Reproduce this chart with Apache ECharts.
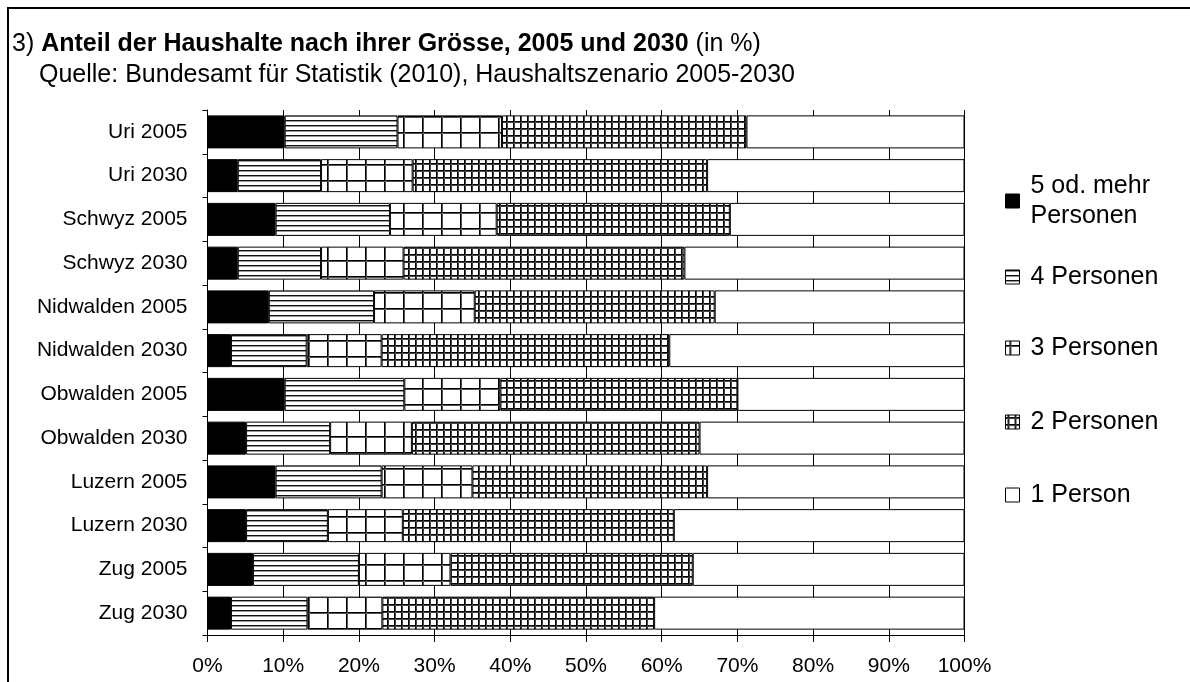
<!DOCTYPE html>
<html>
<head>
<meta charset="utf-8">
<script src="https://cdn.jsdelivr.net/npm/echarts@6/dist/echarts.min.js"></script>
<style>
    html, body { margin: 0; padding: 0; background: #fff; }
    #main { width: 1190px; height: 682px; }
</style>
</head>
<body>
<div id="main"></div>
<script>
// Kategorien, von oben nach unten
var kategorien = ['Uri 2005', 'Uri 2030', 'Schwyz 2005', 'Schwyz 2030', 'Nidwalden 2005', 'Nidwalden 2030',
    'Obwalden 2005', 'Obwalden 2030', 'Luzern 2005', 'Luzern 2030', 'Zug 2005', 'Zug 2030']

// Anteile in %
var personen5 = [10.2, 4.0, 9.0, 4.0, 8.1, 3.1, 10.2, 5.1, 9.0, 5.1, 6.0, 3.1]
var personen4 = [14.9, 11.0, 15.1, 11.0, 13.9, 10.0, 15.8, 11.1, 14.0, 10.8, 14.0, 10.1]
var personen3 = [13.8, 12.1, 14.1, 10.9, 13.3, 9.9, 12.7, 10.8, 12.0, 9.9, 12.1, 9.9]
var personen2 = [32.3, 38.9, 30.8, 37.1, 31.7, 38.0, 31.3, 38.0, 31.0, 35.8, 32.0, 35.9]
var personen1 = [28.8, 34.0, 31.0, 37.0, 33.0, 39.0, 30.0, 35.0, 34.0, 38.4, 35.9, 41.0]

var serienNamen = ['5 od. mehr Personen', '4 Personen', '3 Personen', '2 Personen', '1 Person']

var font = "'Liberation Sans', Arial, sans-serif"

// kleine Canvas-Muster fuer die Schraffuren
function muster (w, h, zeichnen) {
    var c = document.createElement('canvas')
    c.width = w
    c.height = h
    var ctx = c.getContext('2d')
    ctx.fillStyle = '#fff'
    ctx.fillRect(0, 0, w, h)
    zeichnen(ctx)
    return { image: c, repeat: 'repeat' }
}

// waagrechte Streifen
var streifen = muster(6, 5, function (ctx) {
    ctx.fillStyle = '#111'
    ctx.fillRect(0, 0, 6, 1)
    ctx.fillStyle = '#999'
    ctx.fillRect(0, 1, 6, 1)
})
// grosses Gitter
var grossGitter = muster(19, 16, function (ctx) {
    ctx.fillStyle = '#000'
    ctx.fillRect(4, 0, 1, 16)
    ctx.fillRect(0, 4, 19, 1)
    ctx.fillStyle = '#555'
    ctx.fillRect(5, 0, 1, 16)
    ctx.fillRect(0, 5, 19, 1)
})
// kleines Gitter
var kleinGitter = muster(7, 7, function (ctx) {
    ctx.fillStyle = '#000'
    ctx.fillRect(2, 0, 1, 7)
    ctx.fillRect(0, 2, 7, 1)
    ctx.fillStyle = '#444'
    ctx.fillRect(3, 0, 1, 7)
    ctx.fillRect(0, 3, 7, 1)
})

var fuellungen = ['#000', streifen, grossGitter, kleinGitter, '#fff']
var werte = [personen5, personen4, personen3, personen2, personen1]

var series = serienNamen.map(function (name, i) {
    return {
        name: name,
        type: 'bar',
        stack: 'total',
        barWidth: 33,
        data: werte[i],
        itemStyle: {
            color: fuellungen[i],
            borderColor: '#000',
            borderWidth: 1
        },
        emphasis: { disabled: true }
    }
})

function legende (name, top, extra) {
    var l = {
        data: [name],
        orient: 'vertical',
        left: 1005,
        top: top,
        padding: 0,
        itemWidth: 14,
        itemHeight: 14,
        icon: 'rect',
        selectedMode: false,
        itemStyle: { borderColor: '#000', borderWidth: 1 },
        textStyle: { fontSize: 25, lineHeight: 30, color: '#000', fontFamily: font, padding: [0, 0, 0, 6] }
    }
    if (extra) {
        l.formatter = extra.formatter
        l.textStyle.padding = extra.padding
    }
    return l
}

var myChart = echarts.init(document.getElementById('main'))
myChart.setOption({
    animation: false,
    backgroundColor: '#fff',
    title: [{
        left: 12,
        top: 30,
        padding: 0,
        text: '{n|3) }{b|Anteil der Haushalte nach ihrer Grösse, 2005 und 2030}{n| (in %)}',
        textStyle: {
            fontWeight: 'normal',
            rich: {
                n: { fontSize: 25, lineHeight: 28, fontFamily: font, color: '#000', fontWeight: 'normal' },
                b: { fontSize: 25, lineHeight: 28, fontFamily: font, color: '#000', fontWeight: 'bold' }
            }
        }
    }, {
        left: 39,
        top: 61,
        padding: 0,
        text: 'Quelle: Bundesamt für Statistik (2010), Haushaltszenario 2005-2030',
        textStyle: { fontSize: 25, lineHeight: 28, fontFamily: font, color: '#000', fontWeight: 'normal' }
    }],
    legend: [
        legende(serienNamen[0], 156, { formatter: '5 od. mehr\nPersonen', padding: [30, 0, 0, 6] }),
        legende(serienNamen[1], 262),
        legende(serienNamen[2], 333),
        legende(serienNamen[3], 407),
        legende(serienNamen[4], 480)
    ],
    graphic: [{
        type: 'rect',
        silent: true,
        shape: { x: 8, y: 8, width: 1200, height: 700 },
        style: { fill: 'none', stroke: '#000', lineWidth: 2 }
    }],
    grid: {
        left: 207.5,
        right: 225.5,
        top: 110,
        bottom: 47
    },
    xAxis: {
        type: 'value',
        min: 0,
        max: 100,
        interval: 10,
        axisLine: { show: true, lineStyle: { color: '#000', width: 1 } },
        axisTick: { show: true, length: 7, lineStyle: { color: '#000' } },
        splitLine: { show: true, lineStyle: { color: '#000', width: 1 } },
        axisLabel: { margin: 21, fontSize: 21, color: '#000', fontFamily: font, formatter: '{value}%' }
    },
    yAxis: {
        type: 'category',
        inverse: true,
        data: kategorien,
        axisLine: { show: true, lineStyle: { color: '#000', width: 1 } },
        axisTick: { show: true, length: 5, lineStyle: { color: '#000' } },
        splitLine: { show: false },
        axisLabel: { margin: 20, fontSize: 21, color: '#000', fontFamily: font }
    },
    series: series
})
</script>
</body>
</html>
